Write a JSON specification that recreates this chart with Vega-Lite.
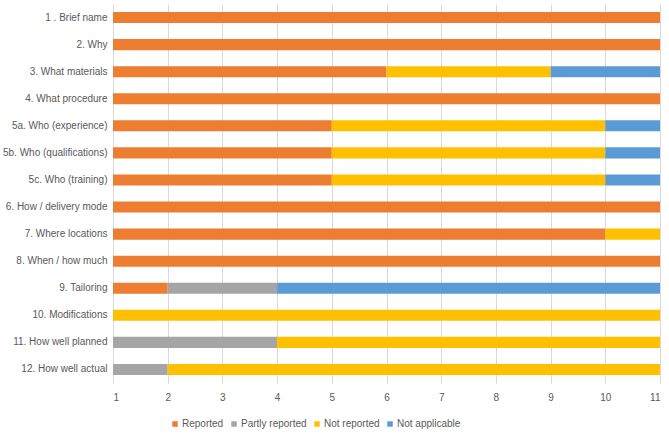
{
  "$schema": "https://vega.github.io/schema/vega-lite/v6.json",
  "width": 547,
  "height": 379,
  "autosize": "none",
  "padding": {"left": 113, "top": 4, "right": 9, "bottom": 53},
  "background": "white",
  "data": {"values": [
    {"item": "1 . Brief name", "cat": "Reported", "o": 1, "n": 11},
    {"item": "2. Why", "cat": "Reported", "o": 1, "n": 11},
    {"item": "3. What materials", "cat": "Reported", "o": 1, "n": 6},
    {"item": "3. What materials", "cat": "Not reported", "o": 3, "n": 3},
    {"item": "3. What materials", "cat": "Not applicable", "o": 4, "n": 2},
    {"item": "4. What procedure", "cat": "Reported", "o": 1, "n": 11},
    {"item": "5a. Who (experience)", "cat": "Reported", "o": 1, "n": 5},
    {"item": "5a. Who (experience)", "cat": "Not reported", "o": 3, "n": 5},
    {"item": "5a. Who (experience)", "cat": "Not applicable", "o": 4, "n": 1},
    {"item": "5b. Who (qualifications)", "cat": "Reported", "o": 1, "n": 5},
    {"item": "5b. Who (qualifications)", "cat": "Not reported", "o": 3, "n": 5},
    {"item": "5b. Who (qualifications)", "cat": "Not applicable", "o": 4, "n": 1},
    {"item": "5c. Who (training)", "cat": "Reported", "o": 1, "n": 5},
    {"item": "5c. Who (training)", "cat": "Not reported", "o": 3, "n": 5},
    {"item": "5c. Who (training)", "cat": "Not applicable", "o": 4, "n": 1},
    {"item": "6. How / delivery mode", "cat": "Reported", "o": 1, "n": 11},
    {"item": "7. Where locations", "cat": "Reported", "o": 1, "n": 10},
    {"item": "7. Where locations", "cat": "Not reported", "o": 3, "n": 1},
    {"item": "8. When / how much", "cat": "Reported", "o": 1, "n": 11},
    {"item": "9. Tailoring", "cat": "Reported", "o": 1, "n": 2},
    {"item": "9. Tailoring", "cat": "Partly reported", "o": 2, "n": 2},
    {"item": "9. Tailoring", "cat": "Not applicable", "o": 4, "n": 7},
    {"item": "10. Modifications", "cat": "Not reported", "o": 3, "n": 11},
    {"item": "11. How well planned", "cat": "Partly reported", "o": 2, "n": 4},
    {"item": "11. How well planned", "cat": "Not reported", "o": 3, "n": 7},
    {"item": "12. How well actual", "cat": "Partly reported", "o": 2, "n": 2},
    {"item": "12. How well actual", "cat": "Not reported", "o": 3, "n": 9}
  ]},
  "mark": {"type": "bar", "clip": true},
  "encoding": {
    "y": {
      "field": "item", "type": "nominal", "sort": null,
      "scale": {"paddingInner": 0.59, "paddingOuter": 0.295},
      "axis": {"title": null, "ticks": false, "domain": false, "labelPadding": 6,
               "labelFont": "Liberation Sans", "labelFontSize": 10, "labelColor": "#595959", "labelLimit": 200}
    },
    "x": {
      "field": "n", "type": "quantitative", "stack": "zero",
      "scale": {"domain": [1, 11], "nice": false, "zero": false},
      "axis": {"title": null, "values": [1,2,3,4,5,6,7,8,9,10,11], "labelOverlap": false, "ticks": false, "domain": false,
               "grid": true, "gridColor": "#D9D9D9", "labelPadding": 9,
               "labelFont": "Liberation Sans", "labelFontSize": 10, "labelColor": "#595959"}
    },
    "color": {
      "field": "cat", "type": "nominal",
      "scale": {"domain": ["Reported", "Partly reported", "Not reported", "Not applicable"],
                "range": ["#ED7D31", "#A5A5A5", "#FFC000", "#5B9BD5"]},
      "legend": {"title": null, "orient": "none", "legendX": 57, "legendY": 415, "direction": "horizontal",
                 "symbolType": "square", "symbolSize": 30, "symbolStrokeWidth": 0, "columnPadding": 5,
                 "labelFont": "Liberation Sans", "labelFontSize": 10, "labelColor": "#595959", "labelOffset": 2}
    },
    "order": {"field": "o", "type": "quantitative"}
  },
  "config": {"view": {"stroke": null}}
}
